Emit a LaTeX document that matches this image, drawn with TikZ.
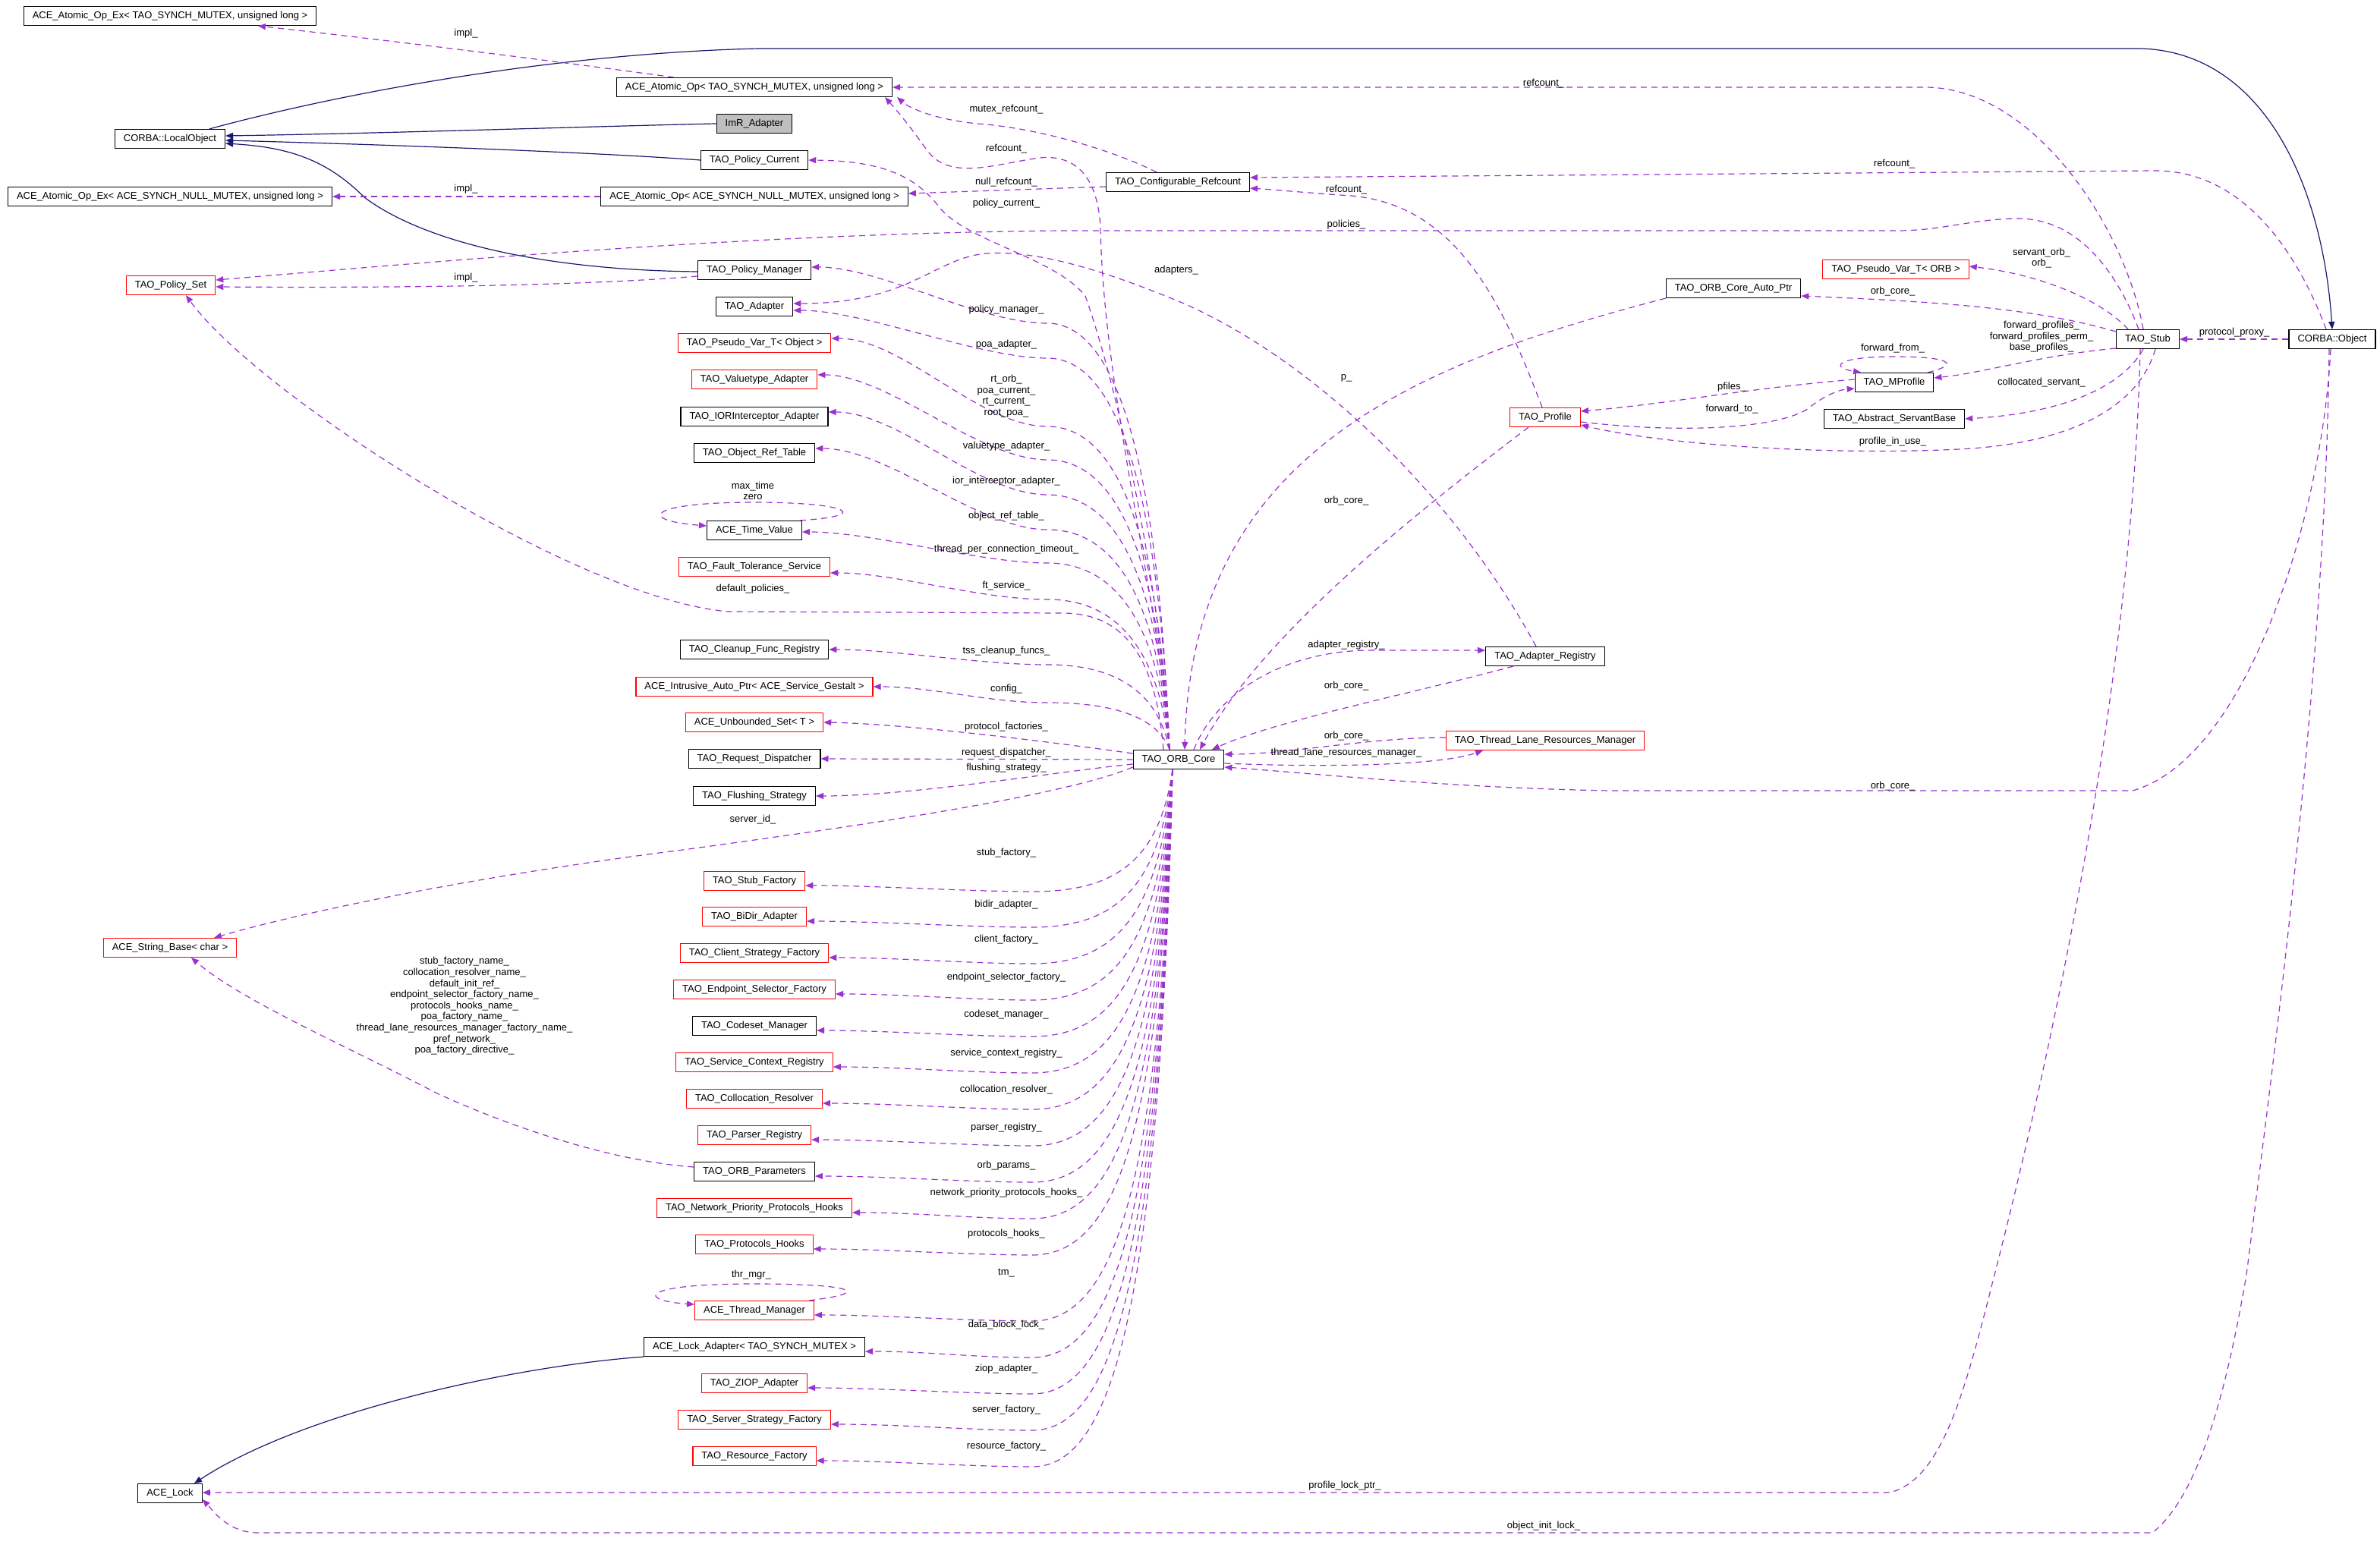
\documentclass[tikz,border=0pt]{standalone}
\usepackage{fontspec}
\setmainfont{Liberation Sans}
\usetikzlibrary{arrows.meta}
\definecolor{edgecol}{HTML}{9A32CD}
\definecolor{inhcol}{HTML}{191970}
\definecolor{focuscol}{HTML}{BFBFBF}
\begin{document}
\begin{tikzpicture}[x=1pt, y=1pt,
		font=\fontsize{6.5}{7.3}\selectfont,
		cls/.style={draw=black, line width=0.6pt, inner xsep=5.75pt, inner ysep=0pt, minimum height=12.5pt, text height=4.8pt, text depth=1.4pt},
		trunc/.style={cls, draw=red},
		mem/.style={draw=edgecol, line width=0.6pt, dash pattern=on 4pt off 3pt, -{Triangle[length=5pt,width=4pt]}},
		inh/.style={draw=inhcol, line width=0.6pt, -{Triangle[length=5pt,width=4pt]}},
		lab/.style={inner sep=0pt, align=center}]
	\useasboundingbox (0,0) rectangle (1568,-1024);

	\node[cls] (opexmutex) at (112,-10.5) {ACE\_Atomic\_Op\_Ex< TAO\_SYNCH\_MUTEX, unsigned long >};
	\node[cls] (localobj) at (112,-91.5) {CORBA::LocalObject};
	\node[cls] (opexnull) at (112,-129.5) {ACE\_Atomic\_Op\_Ex< ACE\_SYNCH\_NULL\_MUTEX, unsigned long >};
	\node[trunc] (polset) at (112.5,-188) {TAO\_Policy\_Set};
	\node[trunc] (strbase) at (112,-624.5) {ACE\_String\_Base< char >};
	\node[cls] (acelock) at (112,-984) {ACE\_Lock};

	\node[cls] (opmutex) at (497,-57.5) {ACE\_Atomic\_Op< TAO\_SYNCH\_MUTEX, unsigned long >};
	\node[cls, fill=focuscol] (imr) at (497,-81.5) {ImR\_Adapter};
	\node[cls] (polcur) at (497,-105.5) {TAO\_Policy\_Current};
	\node[cls] (opnull) at (497,-129.5) {ACE\_Atomic\_Op< ACE\_SYNCH\_NULL\_MUTEX, unsigned long >};
	\node[cls] (polman) at (497,-178) {TAO\_Policy\_Manager};
	\node[cls] (adapter) at (497,-202) {TAO\_Adapter};
	\node[trunc] (pvobj) at (497,-226) {TAO\_Pseudo\_Var\_T< Object >};
	\node[trunc] (valtype) at (497,-250) {TAO\_Valuetype\_Adapter};
	\node[cls] (iorint) at (497,-274.5) {TAO\_IORInterceptor\_Adapter};
	\node[cls] (objref) at (497,-298.5) {TAO\_Object\_Ref\_Table};
	\node[cls] (timeval) at (497,-349.5) {ACE\_Time\_Value};
	\node[trunc] (ftserv) at (497,-373.5) {TAO\_Fault\_Tolerance\_Service};
	\node[cls] (cleanup) at (497,-428) {TAO\_Cleanup\_Func\_Registry};
	\node[trunc] (intrus) at (497,-452.5) {ACE\_Intrusive\_Auto\_Ptr< ACE\_Service\_Gestalt >};
	\node[trunc] (unbset) at (497,-476) {ACE\_Unbounded\_Set< T >};
	\node[cls] (reqdisp) at (497,-500) {TAO\_Request\_Dispatcher};
	\node[cls] (flush) at (497,-524.5) {TAO\_Flushing\_Strategy};
	\node[trunc] (stubfac) at (497,-580.5) {TAO\_Stub\_Factory};
	\node[trunc] (bidir) at (497,-604) {TAO\_BiDir\_Adapter};
	\node[trunc] (clientfac) at (497,-628) {TAO\_Client\_Strategy\_Factory};
	\node[trunc] (endpoint) at (497,-652) {TAO\_Endpoint\_Selector\_Factory};
	\node[cls] (codeset) at (497,-676) {TAO\_Codeset\_Manager};
	\node[trunc] (svcctx) at (497,-700) {TAO\_Service\_Context\_Registry};
	\node[trunc] (colloc) at (497,-724) {TAO\_Collocation\_Resolver};
	\node[trunc] (parser) at (497,-748) {TAO\_Parser\_Registry};
	\node[cls] (orbparams) at (497,-772) {TAO\_ORB\_Parameters};
	\node[trunc] (netprio) at (497,-796) {TAO\_Network\_Priority\_Protocols\_Hooks};
	\node[trunc] (prothooks) at (497,-820) {TAO\_Protocols\_Hooks};
	\node[trunc] (thrmgr) at (497,-863.5) {ACE\_Thread\_Manager};
	\node[cls] (lockadapt) at (497,-887.5) {ACE\_Lock\_Adapter< TAO\_SYNCH\_MUTEX >};
	\node[trunc] (ziop) at (497,-911.5) {TAO\_ZIOP\_Adapter};
	\node[trunc] (srvfac) at (497,-935.5) {TAO\_Server\_Strategy\_Factory};
	\node[trunc] (resfac) at (497,-959.5) {TAO\_Resource\_Factory};

	\node[cls] (core) at (776.5,-500.5) {TAO\_ORB\_Core};
	\node[cls] (cfgref) at (776,-120) {TAO\_Configurable\_Refcount};
	\node[trunc] (profile) at (1018,-275) {TAO\_Profile};
	\node[cls] (adreg) at (1018,-432.5) {TAO\_Adapter\_Registry};
	\node[trunc] (tlrm) at (1018,-488) {TAO\_Thread\_Lane\_Resources\_Manager};
	\node[cls] (autoptr) at (1142,-190) {TAO\_ORB\_Core\_Auto\_Ptr};
	\node[trunc] (pvorb) at (1249,-177.5) {TAO\_Pseudo\_Var\_T< ORB >};
	\node[cls] (mprof) at (1248,-252) {TAO\_MProfile};
	\node[cls] (servant) at (1248,-276) {TAO\_Abstract\_ServantBase};
	\node[cls] (stub) at (1415,-223.5) {TAO\_Stub};
	\node[cls] (corbaobj) at (1536.5,-223.5) {CORBA::Object};

	\draw[inh] (imr.west) .. controls (400,-83) and (250,-88) .. ([yshift=2pt]localobj.east);
	\draw[inh] (polcur.west) .. controls (400,-101) and (280,-96) .. ([yshift=-1pt]localobj.east);
	\draw[inh] ([yshift=-1pt]polman.west) .. controls (360,-178) and (280,-160) .. (240,-130) .. controls (215,-105) and (190,-97) .. ([yshift=-3pt]localobj.east);
	\draw[inh] ([xshift=26pt]localobj.north) .. controls (230,-60) and (370,-35) .. (500,-32) -- (1410,-32) .. controls (1490,-34) and (1530,-120) .. (corbaobj.north);
	\draw[inh] (lockadapt.south west) .. controls (340,-900) and (200,-930) .. ([xshift=16pt]acelock.north);

	\draw[mem] ([xshift=-53pt]opmutex.north) .. controls (363,-40) and (268,-28) .. ([xshift=58pt]opexmutex.south);
	\draw[mem] (opnull.west) -- (opexnull.east);
	\draw[mem] ([yshift=-4pt]polman.west) .. controls (400,-187) and (300,-190) .. ([yshift=-1pt]polset.east);
	\draw[mem] ([xshift=-6pt]stub.north) .. controls (1395,-180) and (1370,-145) .. (1331,-144) .. controls (1300,-144) and (1280,-152) .. (1250,-152) -- (700,-152) .. controls (480,-154) and (260,-175) .. ([yshift=3.5pt]polset.east);
	\draw[mem] ([xshift=-10pt]core.north) .. controls (762,-440) and (745,-404) .. (700,-404) -- (480,-403) .. controls (380,-395) and (170,-260) .. ([xshift=10pt]polset.south);
	\draw[mem] ([xshift=-6pt]core.north) .. controls (765,-400) and (727,-260) .. (725,-150) .. controls (723,-112) and (705,-102) .. (685,-104) .. controls (655,-108) and (625,-120) .. (610,-98) .. controls (600,-84) and (592,-74) .. ([xshift=86pt]opmutex.south);
	\draw[mem] ([xshift=-14pt]cfgref.north) .. controls (735,-100) and (690,-86) .. (650,-82) .. controls (620,-80) and (600,-72) .. ([xshift=94pt]opmutex.south);
	\draw[mem] ([xshift=-3pt]stub.north) .. controls (1400,-150) and (1340,-57.5) .. (1268,-57.5) -- (opmutex.east);
	\draw[mem] ([yshift=-3pt]cfgref.west) -- ([yshift=2pt]opnull.east);
	\draw[mem] ([xshift=-6pt]core.north) .. controls (765,-390) and (738,-260) .. (715,-195) .. controls (695,-170) and (640,-160) .. (620,-138) .. controls (605,-118) and (585,-106) .. (polcur.east);
	\draw[mem] ([xshift=-4pt]corbaobj.north) .. controls (1515,-170) and (1480,-112.5) .. (1420,-112.5) -- ([yshift=3pt]cfgref.east);
	\draw[mem] ([xshift=-2pt]profile.north) .. controls (990,-200) and (960,-135) .. (890,-129) .. controls (860,-127) and (840,-125) .. ([yshift=-4pt]cfgref.east);

	\draw[mem] ([xshift=-6pt]core.north) .. controls (762,-283) and (730,-213) .. (690,-213) .. controls (645,-213) and (580,-176) .. ([yshift=2pt]polman.east);
	\draw[mem] ([xshift=-6pt]core.north) .. controls (762,-300) and (730,-236) .. (690,-236) .. controls (645,-236) and (570,-204.5) .. ([yshift=-2.5pt]adapter.east);
	\draw[mem] ([xshift=-6pt]core.north) .. controls (762,-334) and (730,-281) .. (690,-281) .. controls (645,-281) and (595,-223) .. ([yshift=3pt]pvobj.east);
	\draw[mem] ([xshift=-6pt]core.north) .. controls (762,-351) and (730,-303) .. (690,-303) .. controls (645,-303) and (585,-247) .. ([yshift=3pt]valtype.east);
	\draw[mem] ([xshift=-6pt]core.north) .. controls (762,-368) and (730,-326) .. (690,-326) .. controls (645,-326) and (592,-271.5) .. ([yshift=3pt]iorint.east);
	\draw[mem] ([xshift=-6pt]core.north) .. controls (762,-385) and (730,-349) .. (690,-349) .. controls (645,-349) and (585,-295.5) .. ([yshift=3pt]objref.east);
	\draw[mem] ([xshift=-6pt]core.north) .. controls (762,-402) and (730,-371) .. (690,-371) .. controls (645,-371) and (575,-350.5) .. ([yshift=-1pt]timeval.east);
	\draw[mem] ([xshift=-6pt]core.north) .. controls (762,-420) and (730,-395) .. (690,-395) .. controls (645,-395) and (590,-377.5) .. ([yshift=-4pt]ftserv.east);
	\draw[mem] ([xshift=-6pt]core.north) .. controls (762,-452) and (730,-438) .. (690,-438) .. controls (645,-438) and (590,-428) .. (cleanup.east);
	\draw[mem] ([xshift=-6pt]core.north) .. controls (762,-471) and (730,-463) .. (690,-463) .. controls (650,-463) and (615,-452.5) .. (intrus.east);
	\draw[mem] ([yshift=4pt]core.west) .. controls (700,-490) and (600,-477) .. (unbset.east);
	\draw[mem] (core.west) -- (reqdisp.east);
	\draw[mem] ([yshift=-3pt]core.west) .. controls (700,-508) and (600,-524.5) .. (flush.east);
	\draw[mem] ([yshift=-5pt]core.west) .. controls (700,-525) and (560,-545) .. (450,-560) .. controls (330,-575) and (210,-598) .. ([xshift=29pt]strbase.north);
	\draw[mem] ([yshift=3pt]orbparams.west) .. controls (400,-765) and (330,-740) .. (287,-720) .. controls (230,-690) and (160,-660) .. ([xshift=14pt]strbase.south);

	\draw[mem] ([xshift=-4pt]core.south) .. controls (764,-567) and (735,-587.5) .. (680,-587.5) .. controls (640,-587.5) and (576,-583.5) .. ([yshift=-3pt]stubfac.east);
	\draw[mem] ([xshift=-4pt]core.south) .. controls (764,-585) and (735,-611) .. (680,-611) .. controls (640,-611) and (576,-607) .. ([yshift=-3pt]bidir.east);
	\draw[mem] ([xshift=-4pt]core.south) .. controls (764,-603) and (735,-635) .. (680,-635) .. controls (640,-635) and (591,-631) .. ([yshift=-3pt]clientfac.east);
	\draw[mem] ([xshift=-4pt]core.south) .. controls (764,-621) and (735,-659) .. (680,-659) .. controls (640,-659) and (597,-655) .. ([yshift=-3pt]endpoint.east);
	\draw[mem] ([xshift=-4pt]core.south) .. controls (764,-639) and (735,-683) .. (680,-683) .. controls (640,-683) and (583,-679) .. ([yshift=-3pt]codeset.east);
	\draw[mem] ([xshift=-4pt]core.south) .. controls (764,-657) and (735,-707) .. (680,-707) .. controls (640,-707) and (594,-703) .. ([yshift=-3pt]svcctx.east);
	\draw[mem] ([xshift=-4pt]core.south) .. controls (764,-675) and (735,-731) .. (680,-731) .. controls (640,-731) and (587,-727) .. ([yshift=-3pt]colloc.east);
	\draw[mem] ([xshift=-4pt]core.south) .. controls (764,-693) and (735,-755) .. (680,-755) .. controls (640,-755) and (579,-751) .. ([yshift=-3pt]parser.east);
	\draw[mem] ([xshift=-4pt]core.south) .. controls (764,-711) and (735,-779) .. (680,-779) .. controls (640,-779) and (583,-775) .. ([yshift=-3pt]orbparams.east);
	\draw[mem] ([xshift=-4pt]core.south) .. controls (764,-729) and (735,-803) .. (680,-803) .. controls (640,-803) and (605,-799) .. ([yshift=-3pt]netprio.east);
	\draw[mem] ([xshift=-4pt]core.south) .. controls (764,-747) and (735,-827) .. (680,-827) .. controls (640,-827) and (581,-823) .. ([yshift=-3pt]prothooks.east);
	\draw[mem] ([xshift=-4pt]core.south) .. controls (764,-780) and (735,-870.5) .. (680,-870.5) .. controls (640,-870.5) and (581,-866.5) .. ([yshift=-3pt]thrmgr.east);
	\draw[mem] ([xshift=-4pt]core.south) .. controls (764,-798) and (735,-894.5) .. (680,-894.5) .. controls (640,-894.5) and (612,-890.5) .. ([yshift=-3pt]lockadapt.east);
	\draw[mem] ([xshift=-4pt]core.south) .. controls (764,-816) and (735,-918.5) .. (680,-918.5) .. controls (640,-918.5) and (577,-914.5) .. ([yshift=-3pt]ziop.east);
	\draw[mem] ([xshift=-4pt]core.south) .. controls (764,-834) and (735,-942.5) .. (680,-942.5) .. controls (640,-942.5) and (593,-938.5) .. ([yshift=-3pt]srvfac.east);
	\draw[mem] ([xshift=-4pt]core.south) .. controls (764,-852) and (735,-966.5) .. (680,-966.5) .. controls (640,-966.5) and (583,-962.5) .. ([yshift=-3pt]resfac.east);

	\draw[mem] ([xshift=30pt]timeval.north) .. controls (575,-340) and (560,-331) .. (497,-331) .. controls (425,-331) and (420,-343) .. ([yshift=3pt]timeval.west);
	\draw[mem] ([xshift=36pt]thrmgr.north) .. controls (575,-852) and (565,-846) .. (496,-846) .. controls (420,-846) and (420,-857) .. ([yshift=4pt]thrmgr.west);
	\draw[mem] ([xshift=22pt]mprof.north) .. controls (1292,-240) and (1285,-235) .. (1248,-235) .. controls (1210,-235) and (1205,-242) .. ([xshift=-22pt]mprof.north);

	\draw[mem] (autoptr.south west) .. controls (930,-240) and (785,-300) .. ([xshift=4pt]core.north);
	\draw[mem] ([xshift=-11pt]profile.south) .. controls (930,-340) and (830,-420) .. ([xshift=14pt]core.north);
	\draw[mem] ([xshift=-21pt]adreg.south) .. controls (930,-457) and (840,-475) .. ([xshift=22pt]core.north);
	\draw[mem] ([xshift=10pt]core.north) .. controls (800,-460) and (840,-430) .. (900,-428.5) -- ([yshift=4pt]adreg.west);
	\draw[mem] ([yshift=2pt]tlrm.west) .. controls (900,-486) and (850,-497) .. ([yshift=3.5pt]core.east);
	\draw[mem] ([yshift=-2.5pt]core.east) .. controls (880,-506) and (950,-504) .. ([xshift=-41pt]tlrm.south);
	\draw[mem] ([xshift=-1pt]corbaobj.south) .. controls (1530,-340) and (1480,-500) .. (1405,-521) -- (1060,-521) .. controls (950,-519) and (860,-509) .. ([yshift=-5pt]core.east);
	\draw[mem] ([xshift=-6pt]adreg.north) .. controls (960,-330) and (870,-240) .. (780,-200) .. controls (720,-175) and (680,-165) .. (650,-167) .. controls (615,-170) and (600,-200) .. ([yshift=2pt]adapter.east);

	\draw[mem] ([xshift=-13pt]stub.north) .. controls (1385,-198) and (1345,-181) .. ([yshift=2pt]pvorb.east);
	\draw[mem] ([yshift=5pt]stub.west) .. controls (1340,-203) and (1280,-199) .. ([yshift=-5pt]autoptr.east);
	\draw[mem] ([yshift=-6pt]stub.west) .. controls (1345,-234) and (1305,-246) .. ([yshift=3pt]mprof.east);
	\draw[mem] ([xshift=-3pt]stub.south) .. controls (1400,-252) and (1365,-272) .. (servant.east);
	\draw[mem] ([xshift=5pt]stub.south) .. controls (1410,-265) and (1370,-292) .. (1291,-296) .. controls (1210,-300) and (1100,-294) .. ([yshift=-5pt]profile.east);
	\draw[mem] ([xshift=-5pt]stub.south) .. controls (1405,-450) and (1350,-700) .. (1314,-840) .. controls (1295,-915) and (1280,-975) .. (1245,-983.5) -- ([yshift=0.5pt]acelock.east);
	\draw[mem] ([yshift=2pt]mprof.west) .. controls (1150,-256) and (1100,-266) .. ([yshift=4pt]profile.east);
	\draw[mem] ([yshift=-3pt]profile.east) .. controls (1110,-286) and (1170,-282) .. (1190,-270) .. controls (1200,-262) and (1210,-257) .. ([yshift=-4pt]mprof.west);
	\draw[mem] (corbaobj.west) -- (stub.east);
	\draw[mem] ([xshift=-2pt]corbaobj.south) .. controls (1532,-450) and (1495,-720) .. (1480,-840) .. controls (1468,-910) and (1450,-985) .. (1418,-1010) -- (170,-1010) .. controls (150,-1010) and (140,-995) .. ([yshift=-4pt]acelock.east);

	\node[lab] (limpla) at (307,-22) {impl\_};
	\node[lab] (limplb) at (307,-124.5) {impl\_};
	\node[lab] (limplc) at (307,-183) {impl\_};
	\node[lab] (lstubref) at (1017,-55) {refcount\_};
	\node[lab] (lmutexref) at (663,-72) {mutex\_refcount\_};
	\node[lab] (lcoreref) at (663,-98) {refcount\_};
	\node[lab] (lobjref) at (1248,-108) {refcount\_};
	\node[lab] (lnullref) at (663,-120) {null\_refcount\_};
	\node[lab] (lprofref) at (887,-125) {refcount\_};
	\node[lab] (lpolcur) at (663,-134) {policy\_current\_};
	\node[lab] (lpolicies) at (887,-148) {policies\_};
	\node[lab] (lservorb) at (1345,-170) {servant\_orb\_\\orb\_};
	\node[lab] (ladapters) at (775,-178) {adapters\_};
	\node[lab] (lstubcore) at (1247,-192) {orb\_core\_};
	\node[lab] (lpolman) at (663,-204) {policy\_manager\_};
	\node[lab] (lfwdprof) at (1345,-222) {forward\_profiles\_\\forward\_profiles\_perm\_\\base\_profiles\_};
	\node[lab] (lproxy) at (1472,-219) {protocol\_proxy\_};
	\node[lab] (lpoaad) at (663,-227) {poa\_adapter\_};
	\node[lab] (lfwdfrom) at (1247,-229.5) {forward\_from\_};
	\node[lab] (lp) at (887,-249) {p\_};
	\node[lab] (lrtorb) at (663,-261) {rt\_orb\_\\poa\_current\_\\rt\_current\_\\root\_poa\_};
	\node[lab] (lcoll) at (1345,-252) {collocated\_servant\_};
	\node[lab] (lpfiles) at (1141,-255) {pfiles\_};
	\node[lab] (lfwdto) at (1141,-269.5) {forward\_to\_};
	\node[lab] (linuse) at (1247,-291) {profile\_in\_use\_};
	\node[lab] (lvaltype) at (663,-294) {valuetype\_adapter\_};
	\node[lab] (lior) at (663,-317) {ior\_interceptor\_adapter\_};
	\node[lab] (lmaxtime) at (496,-323.5) {max\_time\\zero};
	\node[lab] (lprofcore) at (887,-330) {orb\_core\_};
	\node[lab] (lobjtab) at (663,-340) {object\_ref\_table\_};
	\node[lab] (ltimeout) at (663,-362) {thread\_per\_connection\_timeout\_};
	\node[lab] (lft) at (663,-386) {ft\_service\_};
	\node[lab] (ldefpol) at (496,-388) {default\_policies\_};
	\node[lab] (ladreg) at (887,-425) {adapter\_registry\_};
	\node[lab] (ltss) at (663,-429) {tss\_cleanup\_funcs\_};
	\node[lab] (ladregcore) at (887,-452) {orb\_core\_};
	\node[lab] (lconfig) at (663,-454) {config\_};
	\node[lab] (lprotfac) at (663,-479) {protocol\_factories\_};
	\node[lab] (ltlrmcore) at (887,-485) {orb\_core\_};
	\node[lab] (lreqdisp) at (663,-496) {request\_dispatcher\_};
	\node[lab] (ltlrm) at (887,-496) {thread\_lane\_resources\_manager\_};
	\node[lab] (lflush) at (663,-506) {flushing\_strategy\_};
	\node[lab] (lobjcore) at (1247,-518) {orb\_core\_};
	\node[lab] (lserverid) at (496,-540) {server\_id\_};
	\node[lab] (lstubfac) at (663,-562) {stub\_factory\_};
	\node[lab] (lbidir) at (663,-596) {bidir\_adapter\_};
	\node[lab] (lclient) at (663,-619) {client\_factory\_};
	\node[lab] (lendpoint) at (663,-644) {endpoint\_selector\_factory\_};
	\node[lab] (lcodeset) at (663,-668.5) {codeset\_manager\_};
	\node[lab] (lsvcctx) at (663,-694) {service\_context\_registry\_};
	\node[lab] (lcolloc) at (663,-718) {collocation\_resolver\_};
	\node[lab] (lparser) at (663,-743) {parser\_registry\_};
	\node[lab] (lorbparams) at (663,-768) {orb\_params\_};
	\node[lab] (lnetprio) at (663,-786) {network\_priority\_protocols\_hooks\_};
	\node[lab] (lprothooks) at (663,-813) {protocols\_hooks\_};
	\node[lab] (ltm) at (663,-839) {tm\_};
	\node[lab] (lthrmgr) at (495,-840) {thr\_mgr\_};
	\node[lab] (ldblock) at (663,-873) {data\_block\_lock\_};
	\node[lab] (lziop) at (663,-902) {ziop\_adapter\_};
	\node[lab] (lsrvfac) at (663,-929) {server\_factory\_};
	\node[lab] (lresfac) at (663,-953) {resource\_factory\_};
	\node[lab] (lnames) at (306,-663) {stub\_factory\_name\_\\collocation\_resolver\_name\_\\default\_init\_ref\_\\endpoint\_selector\_factory\_name\_\\protocols\_hooks\_name\_\\poa\_factory\_name\_\\thread\_lane\_resources\_manager\_factory\_name\_\\pref\_network\_\\poa\_factory\_directive\_};
	\node[lab] (lproflock) at (886,-979) {profile\_lock\_ptr\_};
	\node[lab] (linitlock) at (1017,-1005.5) {object\_init\_lock\_};
\end{tikzpicture}
\end{document}
